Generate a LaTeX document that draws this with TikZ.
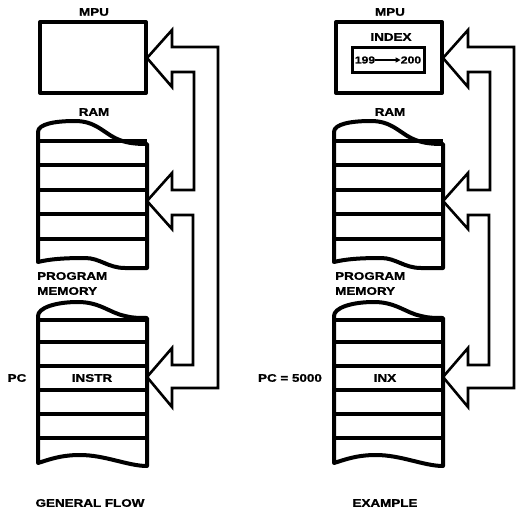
\documentclass[tikz,border=0pt]{standalone}
\usepackage{fontspec}
\newfontfamily\lblfont[FakeStretch=1.22,BoldFeatures={FakeBold=1.3}]{Liberation Sans}
\usetikzlibrary{arrows.meta}
\tikzset{
  lbl/.style={font={\lblfont\bfseries\fontsize{11}{13}\selectfont}, inner sep=0pt},
  smalllbl/.style={font={\lblfont\bfseries\fontsize{10}{11}\selectfont}, inner sep=0pt},
  thickbox/.style={line width=4pt, line join=round},
  rowline/.style={line width=3.5pt},
  flowline/.style={line width=2.6pt, line join=miter},
}
\newcommand\drawpanel{%
  % MPU box
  \draw[thickbox] (40,22) rectangle (146,93);
  % RAM stack
  \draw[thickbox] (38,262) -- (38,132) .. controls (38,124) and (55,121) .. (75,121)
     .. controls (95,121) and (103,132) .. (115,138)
     .. controls (125,143) and (135,144) .. (147,144) -- (147,268) -- (125,268)
     .. controls (108,268) and (100,258) .. (85,258)
     .. controls (65,258) and (50,259) .. (38,262) -- cycle;
  \foreach \yy in {141,165,190,214,239} \draw[rowline] (38,\yy) -- (147,\yy);
  % Program memory stack
  \draw[thickbox] (38,463) -- (38,316) .. controls (38,308) and (55,302) .. (78,302)
     .. controls (100,302) and (110,313) .. (125,316)
     .. controls (132,318) and (140,318) .. (147,318) -- (147,466)
     .. controls (128,466) and (105,455) .. (80,455)
     .. controls (60,455) and (48,460) .. (38,463) -- cycle;
  \foreach \yy in {320,342,366,390,414,438} \draw[rowline] (38,\yy) -- (147,\yy);
  % hollow flow arrows
  \draw[flowline] (172,47) -- (218,47) -- (218,388) -- (172,388) -- (172,407)
     -- (147,377) -- (172,348) -- (172,365) -- (193,365) -- (193,215) -- (172,215)
     -- (172,229) -- (147,201) -- (172,173) -- (172,190) -- (194,190) -- (194,72)
     -- (172,72) -- (172,87) -- (147,58) -- (172,30) -- cycle;
}
\begin{document}
\begin{tikzpicture}[x=1pt,y=-1pt]
\useasboundingbox (0,0) rectangle (517,514);
% left panel
\drawpanel
\node[lbl] (mpuL) at (94,12) {MPU};
\node[lbl] (ramL) at (94,112) {RAM};
\node[lbl,anchor=west] (progL) at (37,276) {PROGRAM};
\node[lbl,anchor=west] (memL) at (37,291) {MEMORY};
\node[lbl] (pcL) at (17,378) {PC};
\node[lbl] (instrL) at (92,378) {INSTR};
\node[lbl] (genL) at (90,503) {GENERAL FLOW};
% right panel
\begin{scope}[xshift=296pt]
\drawpanel
\end{scope}
\node[lbl] (mpuR) at (390,12) {MPU};
\node[lbl] (indexR) at (391,37) {INDEX};
\draw[line width=3pt] (352,47) rectangle (424,72);
\node[smalllbl] (n199) at (365,60) {199};
\node[smalllbl] (n200) at (411,60) {200};
\draw[line width=1.4pt,-{Triangle[length=5pt,width=5pt]}] (n199.east) -- (n200.west);
\node[lbl] (ramR) at (390,112) {RAM};
\node[lbl,anchor=west] (progR) at (335,276) {PROGRAM};
\node[lbl,anchor=west] (memR) at (335,291) {MEMORY};
\node[lbl] (pcR) at (290,378) {PC = 5000};
\node[lbl] (inxR) at (385,378) {INX};
\node[lbl] (exR) at (385,503) {EXAMPLE};
\end{tikzpicture}
\end{document}
